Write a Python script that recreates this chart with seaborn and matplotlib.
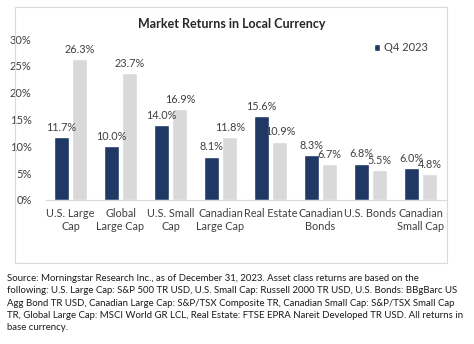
import matplotlib
matplotlib.use("Agg")
import matplotlib.pyplot as plt
import seaborn as sns
import pandas as pd
from matplotlib.patches import Rectangle, Patch

categories = ["U.S. Large\nCap", "Global\nLarge Cap", "U.S. Small\nCap", "Canadian\nLarge Cap",
              "Real Estate", "Canadian\nBonds", "U.S. Bonds", "Canadian\nSmall Cap"]
q4_2023 = [11.7, 10.0, 14.0, 8.1, 15.6, 8.3, 6.8, 6.0]
year_2023 = [26.3, 23.7, 16.9, 11.8, 10.9, 6.7, 5.5, 4.8]
series_names = ["Q4 2023", "2023"]
yticks = [0, 5, 10, 15, 20, 25, 30]

title = "Market Returns in Local Currency"
footnote = ("Source: Morningstar Research Inc., as of December 31, 2023. Asset class returns are based on the\n"
            "following: U.S. Large Cap: S&P 500 TR USD, U.S. Small Cap: Russell 2000 TR USD, U.S. Bonds: BBgBarc US\n"
            "Agg Bond TR USD, Canadian Large Cap: S&P/TSX Composite TR, Canadian Small Cap: S&P/TSX Small Cap\n"
            "TR, Global Large Cap: MSCI World GR LCL, Real Estate: FTSE EPRA Nareit Developed TR USD. All returns in\n"
            "base currency.")

df = pd.DataFrame({
    "category": categories * 2,
    "series": [series_names[0]] * len(categories) + [series_names[1]] * len(categories),
    "value": q4_2023 + year_2023,
})

sns.set_theme(style="white")
plt.rcParams["font.family"] = ["Lato", "DejaVu Sans"]

W, H = 474, 344
fig = plt.figure(figsize=(W / 100, H / 100), dpi=100)
fig.patch.set_facecolor("white")

# chart box border
fig.add_artist(Rectangle((15 / W, 1 - 263 / H), (447 - 15) / W, (263 - 7) / H,
                         transform=fig.transFigure, fill=False, edgecolor="#d9d9d9", lw=0.8))

ax = fig.add_axes([45.5 / W, 1 - 200 / H, 400 / W, 161 / H])
navy = "#1f3864"
grey = "#d9d9d9"
sns.barplot(data=df, x="category", y="value", hue="series", palette=[navy, grey],
            width=0.75, gap=0.2, ax=ax, legend=False, saturation=1)

for cont in ax.containers:
    ax.bar_label(cont, labels=[f"{v:.1f}%" for v in cont.datavalues], padding=3,
                 fontsize=7.8, color="#404040")

ax.set_ylim(0, 30)
ax.set_xlim(-0.5, len(categories) - 0.5)
ax.set_yticks(yticks)
ax.set_yticklabels([f"{t}%" for t in yticks], fontsize=8, color="#404040")
ax.tick_params(axis="y", length=0, pad=10)
ax.tick_params(axis="x", length=0, pad=6, labelsize=7.8, labelcolor="#404040")
ax.set_xlabel("")
ax.set_ylabel("")
for s in ["top", "right", "left"]:
    ax.spines[s].set_visible(False)
ax.spines["bottom"].set_color("#d9d9d9")
ax.spines["bottom"].set_linewidth(0.8)
ax.patch.set_alpha(0)

ax.legend(handles=[Patch(facecolor=navy, label=series_names[0])], loc="upper right",
          bbox_to_anchor=(432 / W, 1 - 38 / H), bbox_transform=fig.transFigure,
          frameon=False, fontsize=8, handlelength=0.6, handleheight=0.6, handletextpad=0.3,
          labelcolor="#404040", borderaxespad=0)

fig.text(232 / W, 1 - 24 / H, title, ha="center", va="center", fontsize=9, fontweight="bold",
         color="#262626")

fig.text(7 / W, 1 - 274 / H, footnote, ha="left", va="top", fontsize=6.9, color="#1a1a1a",
         linespacing=1.48)

fig.savefig("out.png", dpi=100)
